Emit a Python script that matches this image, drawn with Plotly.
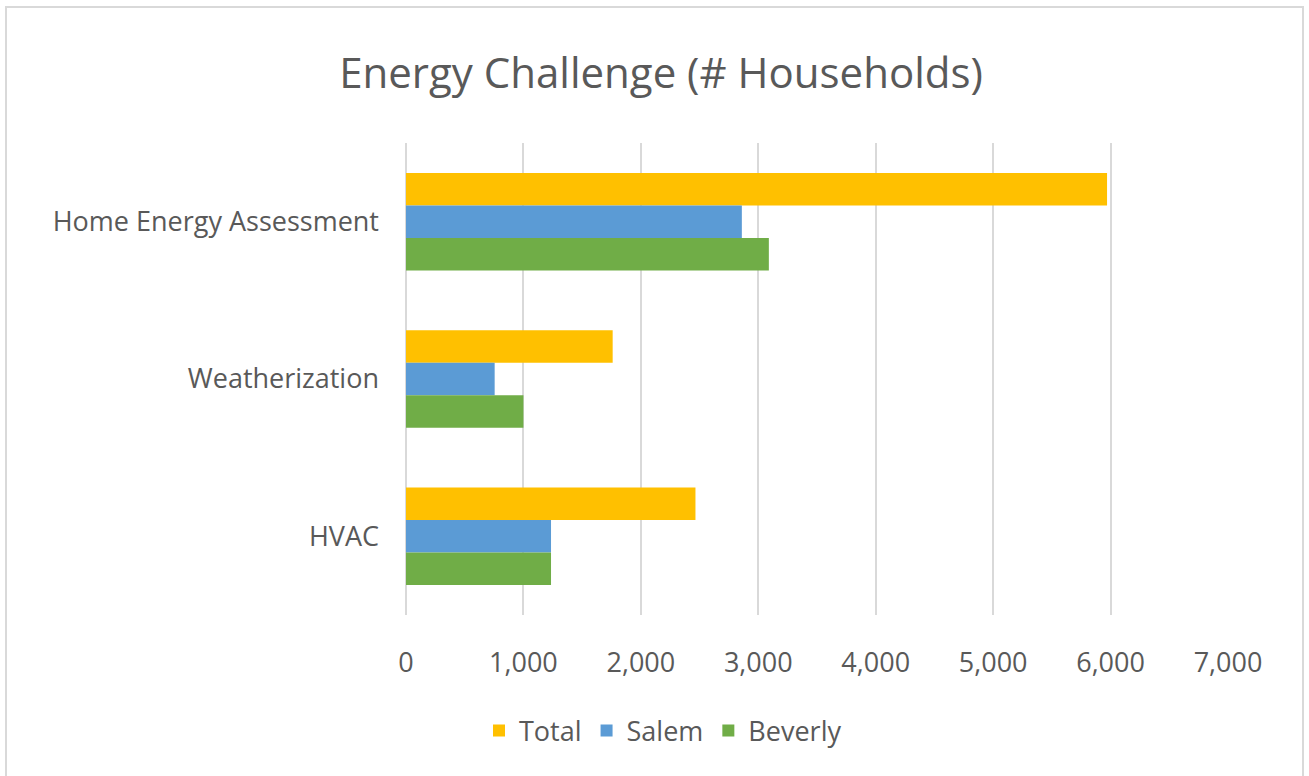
import plotly.graph_objects as go

categories = ["Home Energy Assessment", "Weatherization", "HVAC"]
total = [5970, 1760, 2465]
salem = [2860, 755, 1235]
beverly = [3090, 1000, 1235]
x_ticks = [0, 1000, 2000, 3000, 4000, 5000, 6000, 7000]
x_tick_labels = ["0", "1,000", "2,000", "3,000", "4,000", "5,000", "6,000", "7,000"]

series = [("Total", total, "#FFC000"), ("Salem", salem, "#5B9BD5"), ("Beverly", beverly, "#70AD47")]

FONT = "Open Sans"
GRAY = "#595959"

fig = go.Figure()
for name, vals, color in series:
    fig.add_trace(go.Bar(
        y=categories, x=vals, name=name, orientation="h",
        marker=dict(color=color, line=dict(width=0)),
    ))

W, H = 1309, 776
L, R, T, B = 406, 81, 143, 161
pw, ph = W - L - R, H - T - B

def px_x(p):
    return (p - L) / pw

def px_y(p):
    return (H - B - p) / ph

fig.update_layout(
    width=W, height=H,
    margin=dict(l=L, r=R, t=T, b=B),
    paper_bgcolor="white", plot_bgcolor="white",
    barmode="group", bargap=0.38, bargroupgap=0,
    font=dict(family=FONT, color=GRAY, size=27),
    title=dict(text="Energy Challenge (# Households)", x=661 / W, xref="container", xanchor="center",
               y=1 - 73 / H, yref="container", yanchor="middle",
               font=dict(family=FONT, size=42, color=GRAY)),
    xaxis=dict(range=[0, 7000], tickvals=x_ticks, ticktext=x_tick_labels,
               showgrid=True, gridcolor="#D9D9D9", gridwidth=2,
               zeroline=True, zerolinecolor="#D9D9D9", zerolinewidth=2,
               showline=False, ticks="", ticklabelstandoff=29,
               tickfont=dict(size=27, color=GRAY)),
    yaxis=dict(autorange="reversed", showgrid=False, zeroline=False, showline=False,
               ticks="", ticklabelstandoff=26, tickfont=dict(size=27, color=GRAY)),
    legend=dict(orientation="h", x=663 / W, xref="container", xanchor="center",
                y=1 - 731 / H, yref="container", yanchor="middle",
                font=dict(size=27, color=GRAY), itemwidth=30, tracegroupgap=0),
    shapes=[dict(type="rect", xref="paper", yref="paper",
                 x0=px_x(6), x1=px_x(1303), y0=px_y(800), y1=px_y(7),
                 line=dict(color="#D9D9D9", width=2), fillcolor="rgba(0,0,0,0)", layer="below")],
)

fig.write_html("out.html", config={"displayModeBar": False},
               post_script="document.body.style.margin='0';document.body.style.padding='0';")
